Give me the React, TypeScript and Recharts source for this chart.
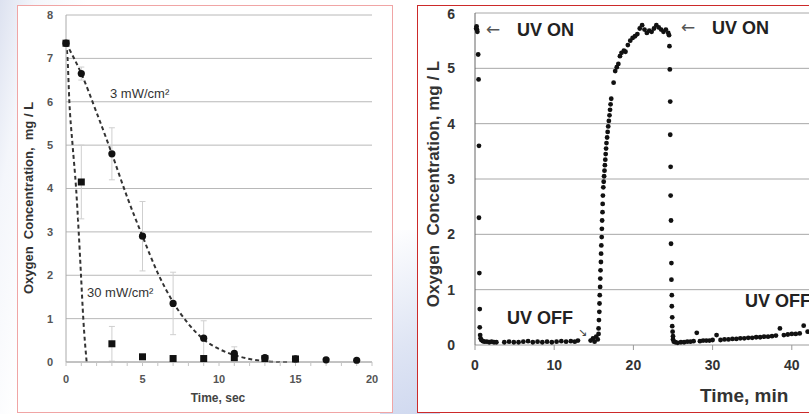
import React from "react";
import { CartesianGrid, ComposedChart, ErrorBar, Line, Scatter, XAxis, YAxis } from "recharts";

const FONT = "'Liberation Sans', Arial, sans-serif";
const ARROW_FONT = "'DejaVu Sans', sans-serif";

// ---- left panel: oxygen vs time (sec) ----
const secTicks = [0, 1, 2, 3, 4, 5, 6, 7, 8, 9, 10, 11, 12, 13, 14, 15, 16, 17, 18, 19, 20];
const concTicksLeft = [0, 1, 2, 3, 4, 5, 6, 7, 8];

// 3 mW/cm2 measurements (circles)
const low3Times = [0, 1, 3, 5, 7, 9, 11, 13, 15, 17, 19];
const low3Conc = [7.35, 6.65, 4.8, 2.9, 1.35, 0.55, 0.2, 0.1, 0.07, 0.05, 0.04];
const low3Err = [0, 0.15, 0.6, 0.8, 0.72, 0.4, 0.15, 0.05, 0, 0, 0];

// 30 mW/cm2 measurements (squares)
const high30Times = [0, 1, 3, 5, 7, 9, 11, 13, 15];
const high30Conc = [7.35, 4.15, 0.42, 0.12, 0.08, 0.08, 0.1, 0.08, 0.07];
const high30Err = [0, 0.85, 0.4, 0, 0, 0, 0, 0, 0];

// dashed fits
const fit3Times = [0, 1, 2, 3, 4, 5, 6, 7, 8, 9, 10, 11, 12, 13, 14, 14.5];
const fit3Conc = [7.35, 6.65, 5.75, 4.8, 3.8, 2.9, 2.05, 1.38, 0.88, 0.52, 0.3, 0.16, 0.07, 0.02, 0.0, 0.0];
const fit30Times = [0, 0.1, 0.22, 0.43, 0.66, 0.83, 0.98, 1.13, 1.35];
const fit30Conc = [7.35, 7.0, 6.0, 5.0, 4.0, 3.0, 2.0, 1.0, 0.0];

// ---- right panel: oxygen vs time (min) ----
const minTicks = [0, 10, 20, 30, 40];
const concTicksRight = [0, 1, 2, 3, 4, 5, 6];

const firstDrop: [number, number][] = [
  [0.15, 5.72], [0.2, 5.76], [0.25, 5.7], [0.3, 5.66], [0.4, 5.25], [0.45, 4.8], [0.5, 3.6],
  [0.5, 2.3], [0.55, 1.3], [0.6, 0.65], [0.6, 0.32], [0.65, 0.18], [0.7, 0.12],
];
const firstBaseline: [number, number][] = [
  [0.8, 0.09], [1.0, 0.07], [1.2, 0.06], [1.5, 0.06], [1.8, 0.05], [2.1, 0.06], [2.4, 0.05],
  [2.7, 0.05], [3.7, 0.05], [4.3, 0.06], [4.9, 0.05], [5.5, 0.05], [6.1, 0.06], [6.7, 0.07],
  [7.3, 0.05], [7.9, 0.06], [8.5, 0.05], [9.1, 0.06], [9.7, 0.05], [10.3, 0.06], [10.9, 0.07],
  [11.5, 0.06], [12.1, 0.07], [12.6, 0.06], [13.0, 0.08],
];
const preRiseCluster: [number, number][] = [
  [14.6, 0.08], [14.9, 0.12], [15.1, 0.06], [15.3, 0.15], [15.5, 0.1], [15.6, 0.2],
];
const recovery: [number, number][] = [
  [15.6, 0.3], [15.65, 0.45], [15.7, 0.6], [15.72, 0.75], [15.75, 0.9], [15.8, 1.05], [15.82, 1.2],
  [15.85, 1.35], [15.9, 1.5], [15.92, 1.65], [15.95, 1.8], [16.0, 1.95], [16.02, 2.1], [16.05, 2.25],
  [16.1, 2.4], [16.12, 2.55], [16.15, 2.7], [16.2, 2.85], [16.25, 2.95], [16.3, 3.05], [16.35, 3.15],
  [16.4, 3.25], [16.45, 3.35], [16.5, 3.45], [16.55, 3.55], [16.6, 3.65], [16.68, 3.75], [16.75, 3.85],
  [16.82, 3.95], [16.9, 4.05], [16.98, 4.15], [17.05, 4.25], [17.12, 4.35], [17.2, 4.45],
];
const plateau: [number, number][] = [
  [17.5, 4.74], [17.7, 4.95], [17.9, 5.02], [18.1, 5.08], [18.3, 5.22], [18.5, 5.28], [18.8, 5.32],
  [19.0, 5.3], [19.3, 5.42], [19.6, 5.5], [19.9, 5.55], [20.2, 5.58], [20.5, 5.62], [20.8, 5.72],
  [21.1, 5.78], [21.4, 5.7], [21.7, 5.64], [22.0, 5.68], [22.3, 5.66], [22.6, 5.72], [22.9, 5.78],
  [23.2, 5.74], [23.5, 5.7], [23.8, 5.66], [24.1, 5.7], [24.4, 5.64],
];
const secondDrop: [number, number][] = [
  [24.5, 5.6], [24.55, 5.4], [24.6, 4.98], [24.65, 4.4], [24.65, 3.8], [24.7, 3.22], [24.7, 2.7],
  [24.75, 2.25], [24.75, 1.83], [24.8, 1.48], [24.8, 1.18], [24.85, 0.9], [24.85, 0.7], [24.9, 0.5],
  [24.9, 0.34], [24.95, 0.24], [25.0, 0.16], [25.0, 0.1], [25.1, 0.06],
];
const secondBaseline: [number, number][] = [
  [25.3, 0.05], [25.6, 0.04], [26.0, 0.05], [26.4, 0.05], [26.8, 0.06], [27.2, 0.06], [27.6, 0.07],
  [28.0, 0.22], [28.4, 0.07], [28.8, 0.08], [29.2, 0.08], [29.6, 0.08], [30.0, 0.09], [30.5, 0.18],
  [31.0, 0.09], [31.5, 0.1], [32.0, 0.1], [32.5, 0.11], [33.0, 0.11], [33.5, 0.12], [34.0, 0.12],
  [34.5, 0.13], [35.0, 0.13], [35.5, 0.14], [36.0, 0.14], [36.5, 0.15], [37.0, 0.15], [37.5, 0.16],
  [38.0, 0.17], [38.5, 0.3], [39.0, 0.18], [39.5, 0.19], [40.0, 0.2], [40.5, 0.2], [41.0, 0.21],
  [41.5, 0.35], [42.0, 0.24],
];

const toRows = (xs: number[], ys: number[], errs?: number[]) =>
  xs.map((x, i) => ({ x, y: ys[i], err: errs ? errs[i] : 0 }));
const pairRows = (pairs: [number, number][]) => pairs.map(([x, y]) => ({ x, y }));

const rightPoints = [
  ...firstDrop,
  ...firstBaseline,
  ...preRiseCluster,
  ...recovery,
  ...plateau,
  ...secondDrop,
  ...secondBaseline,
];

const Dot = (r: number) => (p: any) => <circle cx={p.cx} cy={p.cy} r={r} fill="#111" />;
const Square = (p: any) => <rect x={p.cx - 3.5} y={p.cy - 3.5} width={7} height={7} fill="#111" />;

function LeftChart() {
  return (
    <div
      style={{
        position: "absolute",
        left: 17,
        top: 5,
        width: 376,
        height: 408,
        border: "1px solid #f0a5a5",
        boxSizing: "border-box",
        background: "#fff",
      }}
    >
      <ComposedChart width={374} height={406} margin={{ top: 9, right: 20, bottom: 20, left: 0 }}>
        <CartesianGrid vertical={false} stroke="#b8b8b8" />
        <XAxis
          type="number"
          dataKey="x"
          domain={[0, 20]}
          ticks={secTicks}
          interval={0}
          tickFormatter={(v) => (v % 5 === 0 ? String(v) : "")}
          height={30}
          axisLine={{ stroke: "#aaa" }}
          tickLine={{ stroke: "#c4c4c4" }}
          tickSize={4}
          tickMargin={9}
          tick={{ fill: "#555", fontSize: 11, fontWeight: 700, fontFamily: FONT }}
        />
        <YAxis
          type="number"
          domain={[0, 8]}
          ticks={concTicksLeft}
          width={48}
          axisLine={{ stroke: "#aaa" }}
          tickLine={false}
          tickSize={6}
          tickMargin={7}
          tick={{ fill: "#555", fontSize: 11, fontWeight: 700, fontFamily: FONT }}
        />
        <Line
          data={toRows(fit3Times, fit3Conc)}
          dataKey="y"
          type="monotone"
          stroke="#333"
          strokeWidth={2}
          strokeDasharray="4 3"
          dot={false}
          isAnimationActive={false}
        />
        <Line
          data={toRows(fit30Times, fit30Conc)}
          dataKey="y"
          type="monotone"
          stroke="#333"
          strokeWidth={2}
          strokeDasharray="4 3"
          dot={false}
          isAnimationActive={false}
        />
        <Scatter data={toRows(low3Times, low3Conc, low3Err)} dataKey="y" shape={Dot(3.6)} isAnimationActive={false}>
          <ErrorBar dataKey="err" direction="y" width={3} stroke="#cfcfcf" strokeWidth={1} />
        </Scatter>
        <Scatter data={toRows(high30Times, high30Conc, high30Err)} dataKey="y" shape={Square} isAnimationActive={false}>
          <ErrorBar dataKey="err" direction="y" width={3} stroke="#cfcfcf" strokeWidth={1} />
        </Scatter>
        <text x={92} y={92} fontSize={13} fill="#333" fontFamily={FONT}>
          3 mW/cm²
        </text>
        <text x={69} y={291} fontSize={13} fill="#333" fontFamily={FONT}>
          30 mW/cm²
        </text>
        <text
          x={15}
          y={192}
          transform="rotate(-90 15 192)"
          textAnchor="middle"
          fontSize={13}
          fontWeight={700}
          fill="#333"
          fontFamily={FONT}
          style={{ whiteSpace: "pre" }}
        >
          {"Oxygen  Concentration,  mg / L"}
        </text>
        <text x={200} y={396} textAnchor="middle" fontSize={12} fontWeight={700} fill="#444" fontFamily={FONT}>
          Time, sec
        </text>
      </ComposedChart>
    </div>
  );
}

function RightChart() {
  return (
    <div
      style={{
        position: "absolute",
        left: 417,
        top: 5,
        width: 460,
        height: 408,
        border: "1px solid #cc2a2a",
        boxSizing: "border-box",
        background: "#fff",
      }}
    >
      <ComposedChart width={458} height={406} margin={{ top: 7, right: 5, bottom: 37, left: 0 }}>
        <CartesianGrid vertical={false} stroke="#a8a8a8" />
        <XAxis
          type="number"
          dataKey="x"
          domain={[0, 50]}
          ticks={minTicks}
          interval={0}
          height={30}
          axisLine={{ stroke: "#c8c8c8" }}
          tickLine={{ stroke: "#999" }}
          tickSize={5}
          tickMargin={10}
          tick={{ fill: "#333", fontSize: 14, fontWeight: 700, fontFamily: FONT }}
        />
        <YAxis
          type="number"
          domain={[0, 6]}
          ticks={concTicksRight}
          width={57}
          axisLine={{ stroke: "#666" }}
          tickLine={false}
          tickSize={8}
          tickMargin={12}
          tick={{ fill: "#333", fontSize: 14, fontWeight: 700, fontFamily: FONT }}
        />
        <Scatter data={pairRows(rightPoints)} dataKey="y" shape={Dot(2.4)} isAnimationActive={false} />
        <text x={68} y={29} fontSize={17} fill="#555" fontFamily={ARROW_FONT}>
          ←
        </text>
        <text x={99} y={30} fontSize={18} fontWeight={700} fill="#222" fontFamily={FONT}>
          UV ON
        </text>
        <text x={263} y={27} fontSize={17} fill="#555" fontFamily={ARROW_FONT}>
          ←
        </text>
        <text x={294} y={28} fontSize={18} fontWeight={700} fill="#222" fontFamily={FONT}>
          UV ON
        </text>
        <text x={89} y={318} fontSize={18} fontWeight={700} fill="#222" fontFamily={FONT}>
          UV OFF
        </text>
        <text x={327} y={301} fontSize={18} fontWeight={700} fill="#222" fontFamily={FONT}>
          UV OFF
        </text>
        <text x={160} y={330} fontSize={11} fill="#444" fontFamily={ARROW_FONT}>
          ↘
        </text>
        <text
          x={15}
          y={178}
          transform="rotate(-90 15 178)"
          textAnchor="middle"
          dominantBaseline="central"
          fontSize={17}
          fontWeight={700}
          fill="#333"
          fontFamily={FONT}
          style={{ whiteSpace: "pre" }}
        >
          {"Oxygen  Concentration, mg / L"}
        </text>
        <text x={282} y={396} fontSize={19} fontWeight={700} fill="#333" fontFamily={FONT}>
          Time, min
        </text>
      </ComposedChart>
    </div>
  );
}

export default function App() {
  return (
    <div
      style={{
        position: "absolute",
        left: 0,
        top: 0,
        width: 809,
        height: 414,
        overflow: "hidden",
        background: "linear-gradient(100deg, #dde2f0 0%, #f4f6fb 4%, #ffffff 10%)",
      }}
    >
      <div
        style={{
          position: "absolute",
          left: 380,
          top: 230,
          width: 60,
          height: 184,
          background: "linear-gradient(160deg, #ffffff 0%, #dfe5f4 60%, #cfd8ef 100%)",
        }}
      />
      <LeftChart />
      <RightChart />
    </div>
  );
}
